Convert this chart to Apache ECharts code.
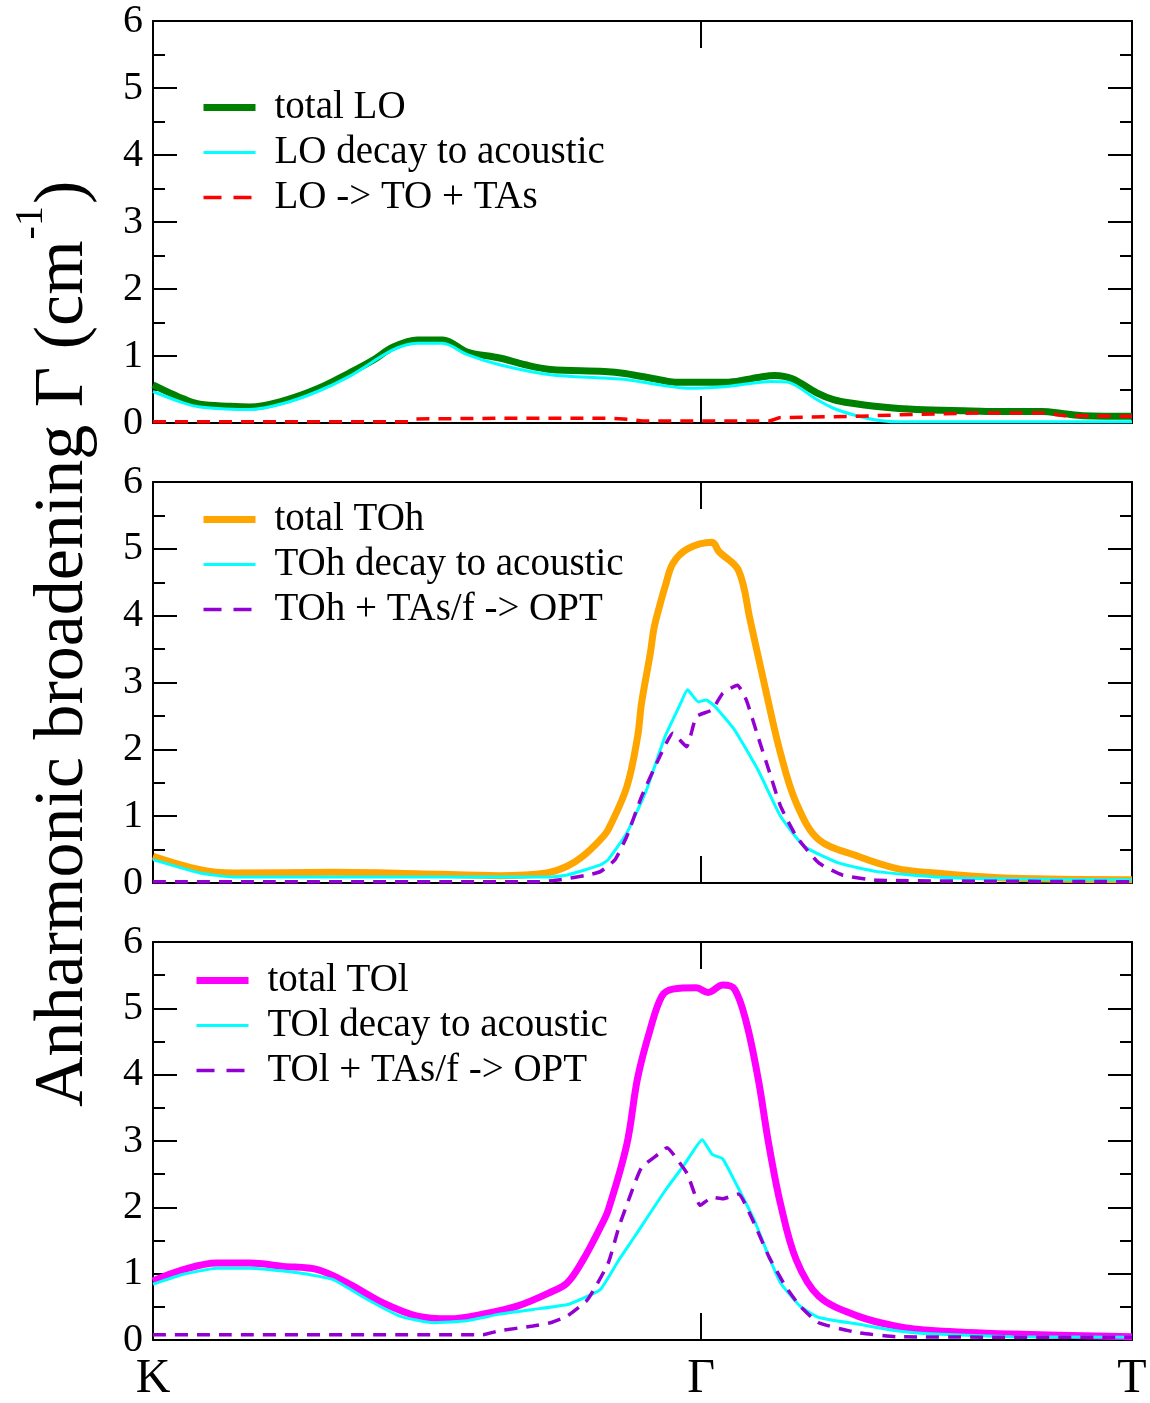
<!DOCTYPE html>
<html>
<head>
<meta charset="utf-8">
<script src="https://cdn.jsdelivr.net/npm/echarts@6/dist/echarts.min.js"></script>
<style>html,body{margin:0;padding:0;background:#fff}#c{width:1150px;height:1403px}</style>
</head>
<body>
<div id="c"></div>
<script>
// x = fractional path coordinate along K -> Gamma -> T
const xTickPos = [0, 0.56, 1];
const xTickLabels = ['K', 'Γ', 'T'];
const yTicks = [0, 1, 2, 3, 4, 5, 6];

// Panel 1: LO
const loTotalX = [0,.017,.031,.048,.079,.099,.133,.168,.201,.225,.245,.270,.296,.321,.354,.380,.406,.461,.482,.516,.533,.588,.618,.635,.653,.678,.695,.716,.737,.780,.836,.865,.908,.930,.950,1];
const loTotal  = [.57,.45,.36,.28,.25,.24,.33,.51,.75,.94,1.13,1.24,1.24,1.06,.97,.87,.80,.77,.74,.65,.61,.61,.68,.71,.66,.45,.35,.29,.25,.20,.18,.17,.17,.14,.11,.10];
const loAcX = [0,.031,.048,.099,.133,.168,.201,.245,.270,.296,.321,.354,.406,.461,.483,.516,.546,.589,.631,.648,.678,.695,.716,.737,.759,1];
const loAc  = [.47,.30,.24,.20,.29,.47,.70,1.09,1.19,1.19,1.02,.87,.72,.67,.65,.57,.52,.55,.62,.61,.35,.22,.12,.05,.02,.02];
const loToX = [0,.262,.268,.35,.47,.49,.50,.63,.64,.72,.78,.84,.91,.93,1];
const loTo  = [.02,.02,.06,.07,.07,.05,.03,.03,.08,.10,.13,.15,.15,.11,.10];

// Panel 2: TOh
const tohTotalX = [0,.048,.082,.184,.270,.354,.402,.423,.439,.457,.465,.484,.495,.499,.508,.512,.520,.523,.531,.546,.571,.578,.598,.610,.625,.641,.657,.680,.720,.759,.799,.877,1];
const tohTotal  = [.40,.20,.15,.16,.14,.11,.15,.25,.40,.65,.80,1.44,2.19,2.69,3.44,3.83,4.28,4.43,4.78,5.00,5.10,4.96,4.68,3.93,2.94,1.94,1.20,.65,.40,.22,.15,.07,.05];
const tohAcX = [0,.048,.082,.406,.423,.457,.465,.484,.504,.523,.539,.546,.557,.565,.574,.594,.618,.641,.665,.700,.740,.799,.877,1];
const tohAc  = [.35,.15,.09,.09,.12,.27,.35,.75,1.39,2.19,2.69,2.89,2.71,2.74,2.64,2.29,1.69,1.00,.55,.30,.17,.09,.06,.05];
const tohOptX = [0,.395,.416,.444,.457,.472,.484,.499,.516,.531,.545,.555,.571,.582,.597,.606,.618,.629,.641,.657,.680,.704,.740,1];
const tohOpt  = [.02,.02,.05,.12,.17,.35,.70,1.29,1.84,2.24,2.04,2.49,2.59,2.84,2.96,2.74,2.19,1.69,1.15,.70,.30,.12,.04,.02];

// Panel 3: TOl
const tolTotalX = [0,.031,.065,.099,.133,.168,.201,.235,.270,.303,.337,.372,.406,.423,.439,.457,.465,.484,.495,.508,.520,.531,.555,.567,.582,.594,.606,.618,.629,.641,.657,.680,.720,.759,.799,.877,1];
const tolTotal  = [.89,1.06,1.16,1.16,1.11,1.06,.84,.56,.36,.32,.39,.51,.72,.86,1.20,1.70,1.96,2.95,3.95,4.69,5.19,5.29,5.31,5.24,5.35,5.29,4.79,3.95,2.95,2.05,1.21,.66,.36,.21,.14,.09,.05];
const tolAcX = [0,.031,.065,.099,.150,.184,.219,.252,.286,.321,.354,.388,.425,.444,.457,.476,.492,.523,.543,.561,.571,.582,.594,.614,.629,.641,.661,.680,.720,.759,.799,.877,1];
const tolAc  = [.84,.99,1.08,1.08,1.01,.91,.61,.36,.26,.29,.39,.46,.54,.66,.76,1.21,1.56,2.25,2.65,3.02,2.80,2.73,2.40,1.81,1.26,.86,.51,.34,.24,.14,.09,.05,.04];
const tolOptX = [0,.337,.354,.388,.406,.423,.444,.465,.476,.488,.499,.516,.525,.539,.546,.559,.571,.582,.598,.614,.629,.646,.661,.680,.720,.759,1];
const tolOpt  = [.08,.08,.14,.21,.26,.36,.61,1.16,1.71,2.20,2.60,2.80,2.90,2.65,2.50,2.03,2.15,2.13,2.20,1.76,1.26,.81,.51,.26,.11,.05,.04];

const panels = [
  {series: [
    {name: 'total LO', x: loTotalX, y: loTotal, color: '#008000', width: 7, dash: null, smooth: 0.35},
    {name: 'LO decay to acoustic', x: loAcX, y: loAc, color: '#00ffff', width: 3, dash: null, smooth: 0.3},
    {name: 'LO -> TO + TAs', x: loToX, y: loTo, color: '#ff0000', width: 3.5, dash: [13, 9], smooth: 0}
  ], legendLeft: 200, legendTop: 85},
  {series: [
    {name: 'total TOh', x: tohTotalX, y: tohTotal, color: '#ffa500', width: 7, dash: null, smooth: 0.35},
    {name: 'TOh decay to acoustic', x: tohAcX, y: tohAc, color: '#00ffff', width: 3, dash: null, smooth: 0.15},
    {name: 'TOh + TAs/f -> OPT', x: tohOptX, y: tohOpt, color: '#9400d3', width: 3.5, dash: [13, 9], smooth: 0.15}
  ], legendLeft: 200, legendTop: 497},
  {series: [
    {name: 'total TOl', x: tolTotalX, y: tolTotal, color: '#ff00ff', width: 7, dash: null, smooth: 0.35},
    {name: 'TOl decay to acoustic', x: tolAcX, y: tolAc, color: '#00ffff', width: 3, dash: null, smooth: 0.15},
    {name: 'TOl + TAs/f -> OPT', x: tolOptX, y: tolOpt, color: '#9400d3', width: 3.5, dash: [13, 9], smooth: 0.15}
  ], legendLeft: 193, legendTop: 958}
];

const SERIF = '"Liberation Serif", "Times New Roman", serif';
const gridBoxes = [{top: 21, height: 402}, {top: 482, height: 401}, {top: 942, height: 402}];
const black = '#000';

const grid = [], xAxis = [], yAxis = [], series = [], legend = [];
panels.forEach((p, i) => {
  grid.push({left: 153, right: 18, top: gridBoxes[i].top, height: gridBoxes[i].height, containLabel: false});
  ['bottom', 'top'].forEach(pos => {
    xAxis.push({
      gridIndex: i, type: 'value', min: 0, max: 1, position: pos,
      axisLine: {show: true, onZero: false, lineStyle: {color: black, width: 2}},
      axisTick: {show: true, inside: true, length: 27, customValues: [xTickPos[1]], lineStyle: {color: black, width: 2}},
      axisLabel: (pos === 'bottom' && i === 2) ? {
        show: true, customValues: xTickPos, margin: 15,
        formatter: v => xTickLabels[xTickPos.indexOf(v)],
        fontFamily: SERIF, fontSize: 48, color: black
      } : {show: false},
      splitLine: {show: false}
    });
  });
  ['left', 'right'].forEach(pos => {
    yAxis.push({
      gridIndex: i, type: 'value', min: 0, max: 6, interval: 1, position: pos,
      axisLine: {show: true, onZero: false, lineStyle: {color: black, width: 2}},
      axisTick: {show: true, inside: true, length: 24, lineStyle: {color: black, width: 2}},
      minorTick: {show: true, splitNumber: 2, length: 12, lineStyle: {color: black, width: 2}},
      axisLabel: pos === 'left' ? {show: true, margin: 10, fontFamily: SERIF, fontSize: 40, color: black,
        formatter: v => String(yTicks[yTicks.indexOf(v)])} : {show: false},
      splitLine: {show: false}, minorSplitLine: {show: false}
    });
  });
  p.series.forEach((s, k) => {
    series.push({
      name: s.name, type: 'line', xAxisIndex: i * 2, yAxisIndex: i * 2,
      data: s.x.map((xv, j) => [xv, s.y[j]]),
      symbol: 'none', smooth: s.smooth, z: 2 + k,
      lineStyle: {color: s.color, width: s.width, type: s.dash || 'solid', cap: 'butt', join: 'round'},
      itemStyle: {color: s.color},
      animation: false
    });
  });
  legend.push({
    orient: 'vertical', left: p.legendLeft, top: p.legendTop,
    itemWidth: 52, itemHeight: 14, itemGap: 0, padding: 0,
    selectedMode: false,
    textStyle: {fontFamily: SERIF, fontSize: 39, color: black, lineHeight: 45, padding: [0, 0, 0, 14]},
    data: p.series.map(s => ({
      name: s.name,
      itemStyle: {color: 'rgba(0,0,0,0)', borderWidth: 0, opacity: 0},
      lineStyle: {color: s.color, width: s.width, type: s.dash ? [18, 12] : 'solid'}
    }))
  });
});

// y-axis title with superscript, measured with canvas text metrics
const mctx = document.createElement('canvas').getContext('2d');
const mainTitle = 'Anharmonic broadening Γ (cm';
mctx.font = '70px "Liberation Serif"';
const w1 = mctx.measureText(mainTitle).width;
mctx.font = '40px "Liberation Serif"';
const w2 = mctx.measureText('-1').width;

const graphic = [{
  type: 'group', x: 64, y: 1107, rotation: Math.PI / 2,
  children: [
    {type: 'text', x: 0, y: 0, style: {text: mainTitle, font: '70px "Liberation Serif"', fill: black, align: 'left', verticalAlign: 'middle'}},
    {type: 'text', x: w1 + 1, y: -33, style: {text: '-1', font: '40px "Liberation Serif"', fill: black, align: 'left', verticalAlign: 'middle'}},
    {type: 'text', x: w1 + w2 + 3, y: 0, style: {text: ')', font: '70px "Liberation Serif"', fill: black, align: 'left', verticalAlign: 'middle'}}
  ]
}];

const chart = echarts.init(document.getElementById('c'), null, {renderer: 'canvas'});
chart.setOption({
  backgroundColor: '#fff',
  animation: false,
  grid, xAxis, yAxis, series, legend, graphic
});
</script>
</body>
</html>
